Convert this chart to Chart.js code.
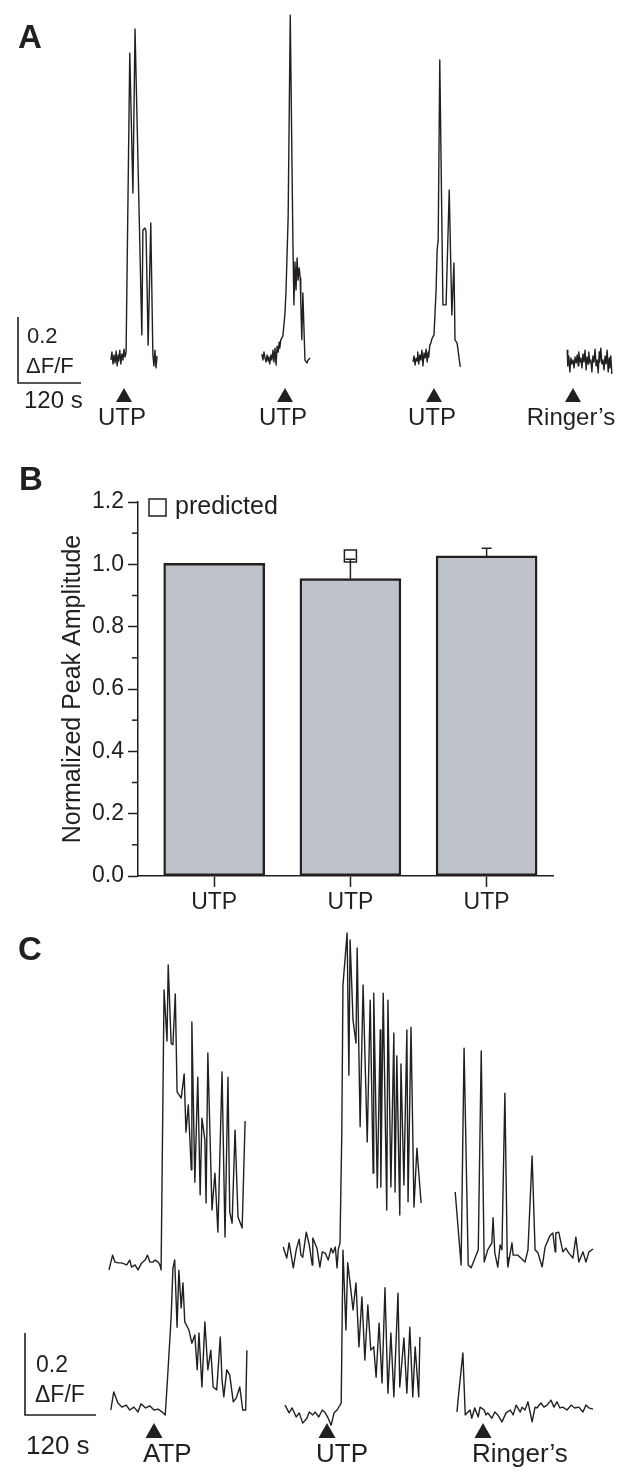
<!DOCTYPE html>
<html>
<head>
<meta charset="utf-8">
<title>UTP / ATP responses</title>
<script src="https://cdn.jsdelivr.net/npm/chart.js@4.4.1/dist/chart.umd.min.js"></script>
<style>
  html, body { margin: 0; padding: 0; background: #fff; }
  body { width: 634px; height: 1482px; position: relative; overflow: hidden; }
  canvas { position: absolute; left: 0; }
</style>
</head>
<body>
<canvas id="panel-a" width="634" height="430" style="top:0px"></canvas>
<canvas id="panel-b" width="634" height="480" style="top:440px"></canvas>
<canvas id="panel-c" width="634" height="562" style="top:920px"></canvas>
<script>
/* Fluorescence traces (ΔF/F) and normalized peak amplitudes */

const INK = '#231f20';
const FONT = "'Liberation Sans', Arial, Helvetica, sans-serif";

Chart.defaults.font.family = FONT;
Chart.defaults.color = INK;
Chart.defaults.animation = false;

// --- Panel A data: time in s (0 = arrowhead), ΔF/F ---
const aUtp1Time = [-25,-23,-21,-19,-17,-15,-13,-11,-10,-8,-6,-4,-2,0,2,4,11,17,21,34,36,40,42,46,51,55,57,59,61,63];
const aUtp1Dff  = [-0.006,0.018,-0.018,0.009,-0.015,0.021,-0.024,0.009,-0.009,0.024,-0.018,0.012,-0.006,0.027,0.003,0.018,
                   0.924,0.500,0.997,0.070,0.388,0.394,0.382,0.039,0.409,0.009,-0.024,0.024,-0.030,0.006];

const aUtp2Time = [-44,-42,-40,-38,-36,-34,-32,-31,-29,-27,-25,-23,-21,-19,-17,-15,-13,-11,-10,-8,
                   -4,0,2,6,10,15,17,19,21,23,25,27,29,30,32,34,38,42,44,48];
const aUtp2Dff  = [0.012,-0.006,0.018,0.000,-0.012,0.009,-0.009,0.003,-0.018,0.009,-0.006,0.024,-0.012,0.030,-0.021,0.036,0.018,0.048,0.030,0.055,
                   0.067,0.136,0.206,0.427,1.039,0.358,0.161,0.291,0.206,0.303,0.236,0.273,0.242,0.176,0.055,0.197,-0.006,-0.015,-0.006,0.000];

const aUtp3Time = [-40,-38,-36,-34,-32,-31,-29,-27,-25,-23,-21,-19,-17,-15,-13,-11,-10,-8,-6,-4,
                   0,4,6,8,11,17,23,29,34,38,40,44,50];
const aUtp3Dff  = [-0.012,0.006,-0.021,0.000,-0.009,0.018,-0.018,0.009,-0.006,0.024,-0.024,0.015,0.000,0.027,-0.012,0.018,0.003,0.039,0.045,0.058,
                   0.070,0.206,0.327,0.358,0.903,0.161,0.161,0.509,0.130,0.288,0.055,0.045,-0.027];

const aRingerTime = [-11,-10,-8,-6,-4,-2,0,2,4,6,8,10,11,13,15,17,19,21,23,25,27,29,30,32,34,36,38,40,42,44,
                     46,48,50,51,53,55,57,59,61,63,65,67,69,70,72,74];
const aRingerDff  = [0.024,-0.024,0.006,-0.042,0.000,-0.018,-0.006,-0.030,0.003,-0.015,0.009,-0.024,0.018,-0.012,0.000,
                     -0.030,0.012,-0.012,0.024,-0.036,0.003,-0.018,0.018,-0.012,-0.006,-0.042,0.006,-0.012,0.027,-0.024,
                     -0.006,-0.045,0.018,-0.012,0.030,-0.018,-0.006,-0.036,0.006,-0.018,0.024,-0.042,0.000,-0.030,0.006,-0.048];
const aStimLabels = ['UTP', 'UTP', 'UTP', 'Ringer\u2019s'];

// --- Panel B data ---
const bCategories = ['UTP', 'UTP', 'UTP'];
const bMeans      = [1.003, 0.954, 1.027];
const bSem        = [0, 0.062, 0.025];
const bPredicted  = [null, 1.027, null];
const bYTicks     = [0, 0.2, 0.4, 0.6, 0.8, 1.0, 1.2];

// --- Panel C data: top row and bottom row, time in s (0 = arrowhead), ΔF/F ---
const cAtpTopTime = [-76,-70,-66,-60,-55,-46,-41,-38,-32,-27,-21,-15,-11,-7,-2,2,7,10,12,17,
                     22,24,29,32,36,39,46,51,54,58,63,64,69,74,78,81,86,88,91,98,
                     103,108,115,120,125,128,132,137,142,149,154];
const cAtpTopDff  = [-0.029,0.007,-0.010,-0.012,-0.012,-0.017,-0.005,-0.022,-0.017,-0.029,-0.012,-0.005,0.007,-0.010,-0.010,-0.005,-0.010,-0.017,-0.029,0.654,
                     0.529,0.715,0.524,0.520,0.644,0.405,0.390,0.449,0.307,0.373,0.215,0.576,0.185,0.441,0.154,0.341,0.288,0.134,0.500,0.117,
                     0.207,0.063,0.454,0.051,0.441,0.112,0.085,0.312,0.100,0.073,0.334];

const cUtpTopTime = [-74,-68,-64,-57,-52,-47,-44,-41,-35,-30,-25,-24,-17,-12,-8,-3,2,7,10,14,17,19,22,
                     25,27,34,37,39,44,49,51,56,61,68,73,78,79,85,90,91,95,101,103,108,113,115,118,123,125,130,135,137,142,147,152,159];
const cUtpTopDff  = [0.027,0.000,0.037,-0.024,0.020,0.046,0.007,0.002,0.063,0.032,-0.017,0.049,0.024,-0.022,0.015,0.012,-0.005,0.024,0.012,0.027,-0.024,0.020,0.037,
                     0.305,0.666,0.793,0.446,0.776,0.580,0.524,0.756,0.320,0.666,0.283,0.629,0.207,0.646,0.171,0.556,0.173,0.646,0.117,0.629,
                     0.173,0.549,0.161,0.493,0.105,0.473,0.178,0.556,0.137,0.563,0.124,0.268,0.134];

const cRingerTopTime = [-47,-37,-32,-25,-20,-8,-3,2,8,15,17,20,25,29,32,37,41,42,49,51,59,71,76,83,88,93,100,105,
                        113,118,122,123,128,135,140,145,152,157,162,169,174,179,186];
const cRingerTopDff  = [0.161,-0.017,0.512,-0.017,-0.024,0.020,0.505,-0.010,0.020,0.037,0.098,0.012,-0.022,0.032,0.020,
                        0.402,0.002,-0.022,0.037,0.007,0.007,-0.010,0.020,0.249,0.020,0.012,-0.022,0.027,0.054,0.061,
                        0.015,0.061,0.063,0.015,0.024,0.012,0.000,0.051,-0.010,0.015,-0.010,0.015,0.022];

const cAtpBotTime = [-73,-68,-61,-54,-47,-41,-34,-27,-22,-14,-7,0,7,14,19,22,29,32,35,39,42,46,49,52,59,64,69,73,76,81,
                     86,91,96,100,106,112,115,118,123,128,134,139,145,150,155,157];
const cAtpBotDff  = [0.000,0.044,0.017,0.007,0.012,0.000,0.007,-0.005,0.015,0.005,0.010,0.000,0.002,-0.005,-0.012,0.056,
                     0.227,0.346,0.366,0.202,0.341,0.249,0.310,0.215,0.195,0.163,0.183,0.098,0.188,0.056,0.215,0.098,
                     0.146,0.056,0.049,0.178,0.073,0.032,0.098,0.085,0.020,0.029,0.056,0.000,0.000,0.146];

const cUtpBotTime = [-71,-64,-59,-52,-47,-41,-34,-30,-24,-20,-14,-8,-3,2,7,12,17,24,27,32,35,39,44,49,54,59,64,69,74,79,
                     83,88,93,98,103,108,113,120,123,130,135,140,145,149,155,157];
const cUtpBotDff  = [0.012,-0.007,0.005,-0.017,-0.007,-0.032,-0.020,-0.005,-0.012,-0.005,-0.017,0.000,-0.007,-0.020,-0.037,
                     -0.007,0.000,0.017,0.390,0.195,0.359,0.310,0.244,0.310,0.154,0.276,0.122,0.256,0.146,0.154,0.080,
                     0.212,0.066,0.298,0.041,0.188,0.032,0.285,0.056,0.176,0.041,0.202,0.032,0.154,0.032,0.178];

const cRingerBotTime = [-44,-41,-34,-30,-22,-19,-14,-8,-5,2,5,8,15,20,25,32,39,46,51,56,63,66,71,76,83,88,91,98,
                        103,108,115,120,125,130,135,142,149,155,162,169,174,179,186];
const cRingerBotDff  = [-0.005,0.041,0.139,-0.012,0.000,-0.020,0.005,-0.017,0.007,0.000,-0.012,-0.007,-0.020,-0.005,-0.012,
                        -0.029,-0.007,0.000,-0.012,0.012,-0.005,0.007,0.000,0.020,-0.029,0.007,0.005,0.017,0.007,0.012,
                        0.024,0.007,0.020,0.005,0.007,0.000,0.012,0.005,0.007,-0.005,0.012,0.005,0.002];
const cStimLabels = ['ATP', 'UTP', 'Ringer\u2019s'];

// --- Layout (pixels) ---
const layoutA = { width: 634, height: 430, pxPerSec: 63 / 120, pxPerUnit: 66 / 0.2, baseline: 358, stimX: [124, 285, 434, 573] };
const layoutC = { width: 634, height: 562, pxPerSec: 71 / 120, pxPerUnit: 82 / 0.2, baseline: 490, topBaseline: 338, stimX: [154, 327, 483] };

// --- Helpers ---
function traceDataset(times, values, stimSec, offset) {
    return {
        data: times.map((t, i) => ({ x: stimSec + t, y: values[i] + offset })),
        borderColor: INK, borderWidth: 1.4, borderJoinStyle: 'round',
        pointRadius: 0, tension: 0, fill: false
    };
}

function traceScales(lay) {
    return {
        x: { type: 'linear', display: false, min: 0, max: lay.width / lay.pxPerSec },
        y: { type: 'linear', display: false, min: -(lay.height - lay.baseline) / lay.pxPerUnit, max: lay.baseline / lay.pxPerUnit }
    };
}

// letter, scale bar, arrowheads and stimulus labels
const traceDecor = {
    id: 'traceDecor',
    afterDraw(chart, args, o) {
        const { ctx, scales: { x, y } } = chart;
        ctx.save();
        ctx.fillStyle = INK;
        ctx.strokeStyle = INK;
        ctx.textBaseline = 'alphabetic';

        ctx.font = `bold 33px ${FONT}`;
        ctx.textAlign = 'left';
        ctx.fillText(o.letter, o.letterX, o.letterY);

        const barH = y.getPixelForValue(0) - y.getPixelForValue(o.barUnits);
        const barW = x.getPixelForValue(o.barSec) - x.getPixelForValue(0);
        ctx.lineWidth = 1.6;
        ctx.beginPath();
        ctx.moveTo(o.barX, o.barY - barH);
        ctx.lineTo(o.barX, o.barY);
        ctx.lineTo(o.barX + barW, o.barY);
        ctx.stroke();
        o.barText.forEach(t => {
            ctx.font = `${t.size}px ${FONT}`;
            ctx.fillText(t.text, t.x, t.y);
        });

        ctx.font = `${o.labelSize}px ${FONT}`;
        ctx.textAlign = o.labelAlign;
        o.stimSec.forEach((s, i) => {
            const px = x.getPixelForValue(s);
            ctx.beginPath();
            ctx.moveTo(px, o.triTop);
            ctx.lineTo(px + o.triHalf, o.triBottom);
            ctx.lineTo(px - o.triHalf, o.triBottom);
            ctx.closePath();
            ctx.fill();
            ctx.fillText(o.labels[i], px + o.labelDx, o.labelY);
        });
        ctx.restore();
    }
};

// --- Panel A ---
const aStimSec = layoutA.stimX.map(px => px / layoutA.pxPerSec);
new Chart(document.getElementById('panel-a'), {
    type: 'line',
    data: {
        datasets: [
            traceDataset(aUtp1Time, aUtp1Dff, aStimSec[0], 0),
            traceDataset(aUtp2Time, aUtp2Dff, aStimSec[1], 0),
            traceDataset(aUtp3Time, aUtp3Dff, aStimSec[2], 0),
            traceDataset(aRingerTime, aRingerDff, aStimSec[3], 0)
        ]
    },
    options: {
        responsive: false,
        layout: { padding: 0, autoPadding: false },
        plugins: {
            legend: { display: false }, tooltip: { enabled: false },
            traceDecor: {
                letter: 'A', letterX: 18, letterY: 48,
                barX: 18, barY: 383, barUnits: 0.2, barSec: 120,
                barText: [
                    { text: '0.2', x: 27, y: 343, size: 22 },
                    { text: '\u0394F/F', x: 26, y: 373, size: 22 },
                    { text: '120 s', x: 24, y: 408, size: 24 }
                ],
                stimSec: aStimSec, labels: aStimLabels,
                triTop: 388, triBottom: 402, triHalf: 8,
                labelSize: 24, labelAlign: 'center', labelDx: -2, labelY: 425
            }
        },
        scales: traceScales(layoutA)
    },
    plugins: [traceDecor]
});

// --- Panel B ---
const isMajor = v => Math.round(v * 10) % 2 === 0;
const barExtras = {
    id: 'barExtras',
    afterDatasetsDraw(chart) {
        const { ctx, scales: { x, y } } = chart;
        ctx.save();
        ctx.strokeStyle = INK;
        ctx.lineWidth = 1.5;
        bMeans.forEach((m, i) => {
            if (!bSem[i]) return;
            const px = x.getPixelForValue(i + 1);
            const top = y.getPixelForValue(m + bSem[i]);
            ctx.beginPath();
            ctx.moveTo(px, y.getPixelForValue(m));
            ctx.lineTo(px, top);
            ctx.moveTo(px - 5, top);
            ctx.lineTo(px + 5, top);
            ctx.stroke();
        });
        ctx.restore();
    },
    afterDraw(chart) {
        const { ctx, chartArea, scales: { y } } = chart;
        ctx.save();
        ctx.strokeStyle = INK;
        ctx.lineWidth = 1.5;
        // minor ticks
        for (let i = 0; i < bYTicks.length - 1; i++) {
            const py = y.getPixelForValue((bYTicks[i] + bYTicks[i + 1]) / 2);
            ctx.beginPath();
            ctx.moveTo(chartArea.left - 6, py);
            ctx.lineTo(chartArea.left, py);
            ctx.stroke();
        }
        // legend
        ctx.fillStyle = '#fff';
        ctx.fillRect(chartArea.left + 11, chartArea.top - 3, 17, 17);
        ctx.strokeRect(chartArea.left + 11, chartArea.top - 3, 17, 17);
        ctx.fillStyle = INK;
        ctx.font = `25px ${FONT}`;
        ctx.textBaseline = 'middle';
        ctx.fillText('predicted', chartArea.left + 37, chartArea.top + 5);
        // panel letter
        ctx.font = `bold 33px ${FONT}`;
        ctx.textBaseline = 'alphabetic';
        ctx.fillText('B', 19, 50);
        ctx.restore();
    }
};

new Chart(document.getElementById('panel-b'), {
    type: 'bar',
    data: {
        datasets: [
            {
                type: 'bar', label: 'measured',
                data: bMeans.map((v, i) => ({ x: i + 1, y: v })),
                backgroundColor: '#bec3c9', borderColor: INK, borderWidth: 2.4,
                borderSkipped: false, barThickness: 101, order: 2
            },
            {
                type: 'scatter', label: 'predicted',
                data: bPredicted.map((v, i) => (v === null ? null : { x: i + 1, y: v })).filter(Boolean),
                pointStyle: 'rect', pointRadius: 8.5, backgroundColor: '#fff',
                borderColor: INK, borderWidth: 1.5, order: 1
            }
        ]
    },
    options: {
        responsive: false,
        layout: { padding: { left: 0, right: 81, top: 62, bottom: 0 }, autoPadding: false },
        plugins: { legend: { display: false }, tooltip: { enabled: false } },
        scales: {
            x: {
                type: 'linear', min: 0.4405, max: 3.4875, offset: false,
                afterBuildTicks: s => { s.ticks = bCategories.map((c, i) => ({ value: i + 1 })); },
                afterFit: s => { s.height = 44; },
                ticks: { callback: v => bCategories[v - 1], font: { size: 23 }, padding: 2, color: INK, maxRotation: 0 },
                grid: { offset: false, drawOnChartArea: false, tickLength: 11, tickColor: INK, tickWidth: 1.5 },
                border: { color: INK, width: 1.5 }
            },
            y: {
                min: 0, max: 1.2,
                afterFit: s => { s.width = 138; },
                ticks: { stepSize: 0.1, autoSkip: false, callback: v => (isMajor(v) ? v.toFixed(1) : ''), font: { size: 23 }, padding: 4, color: INK },
                grid: { drawOnChartArea: false, tickLength: 10, tickWidth: 1.5, tickColor: c => (isMajor(c.tick.value) ? INK : 'rgba(0,0,0,0)') },
                border: { color: INK, width: 1.5 },
                title: { display: true, text: 'Normalized Peak Amplitude', font: { size: 25 }, color: INK, padding: { top: 58, bottom: 0 } }
            }
        }
    },
    plugins: [barExtras]
});

// --- Panel C ---
const cStimSec = layoutC.stimX.map(px => px / layoutC.pxPerSec);
const cTopOffset = (layoutC.baseline - layoutC.topBaseline) / layoutC.pxPerUnit;
new Chart(document.getElementById('panel-c'), {
    type: 'line',
    data: {
        datasets: [
            traceDataset(cAtpTopTime, cAtpTopDff, cStimSec[0], cTopOffset),
            traceDataset(cUtpTopTime, cUtpTopDff, cStimSec[1], cTopOffset),
            traceDataset(cRingerTopTime, cRingerTopDff, cStimSec[2], cTopOffset),
            traceDataset(cAtpBotTime, cAtpBotDff, cStimSec[0], 0),
            traceDataset(cUtpBotTime, cUtpBotDff, cStimSec[1], 0),
            traceDataset(cRingerBotTime, cRingerBotDff, cStimSec[2], 0)
        ]
    },
    options: {
        responsive: false,
        layout: { padding: 0, autoPadding: false },
        plugins: {
            legend: { display: false }, tooltip: { enabled: false },
            traceDecor: {
                letter: 'C', letterX: 18, letterY: 40,
                barX: 25, barY: 495, barUnits: 0.2, barSec: 120,
                barText: [
                    { text: '0.2', x: 36, y: 452, size: 23 },
                    { text: '\u0394F/F', x: 35, y: 482, size: 23 },
                    { text: '120 s', x: 26, y: 534, size: 26 }
                ],
                stimSec: cStimSec, labels: cStimLabels,
                triTop: 503, triBottom: 518, triHalf: 8.5,
                labelSize: 26, labelAlign: 'left', labelDx: -11, labelY: 542
            }
        },
        scales: traceScales(layoutC)
    },
    plugins: [traceDecor]
});
</script>
</body>
</html>
